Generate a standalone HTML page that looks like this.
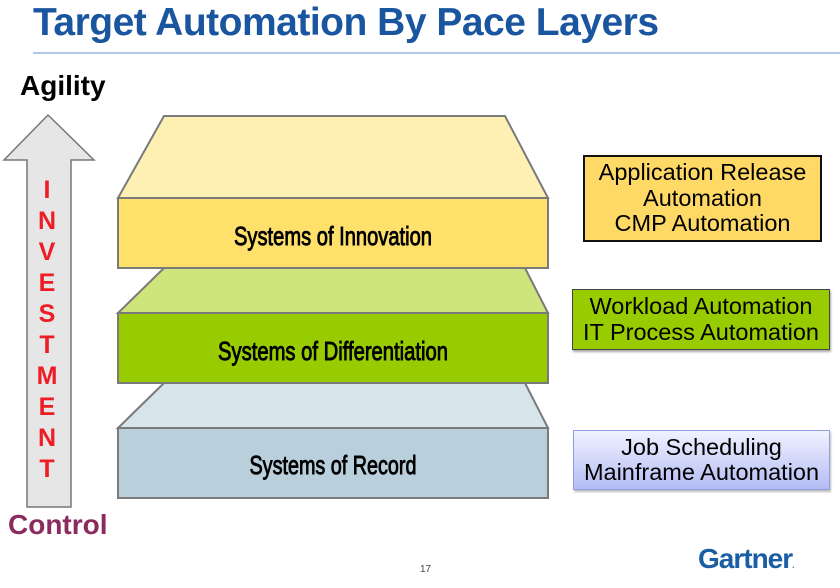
<!DOCTYPE html>
<html><head><meta charset="utf-8"><style>
body{margin:0;width:840px;height:588px;background:#fff;overflow:hidden;position:relative;font-family:"Liberation Sans",sans-serif}
.t{position:absolute;white-space:nowrap}
.box{position:absolute;display:flex;align-items:center;justify-content:center;text-align:center;font-size:23.5px;line-height:25.5px;color:#000;box-sizing:border-box}
</style></head><body>
<div class="t" style="left:33px;top:1px;font-size:39px;font-weight:bold;color:#1a56a0;letter-spacing:-0.5px">Target Automation By Pace Layers</div>
<div style="position:absolute;left:33px;top:52px;width:807px;height:2px;background:#b0c9ea"></div>
<div class="t" style="left:20px;top:70px;font-size:28px;font-weight:bold;color:#000">Agility</div>
<div class="t" style="left:8px;top:509px;font-size:28px;font-weight:bold;color:#8b2a5c">Control</div>
<svg width="840" height="588" style="position:absolute;left:0;top:0">
<polygon points="48,115 94,160 71,160 71,507 27,507 27,160 4,160" fill="#e6e6e6" stroke="#777" stroke-width="1.5"/>
<g font-family="Liberation Sans" font-weight="bold" font-size="25" fill="#ee1c24" text-anchor="middle">
<text x="47" y="198">I</text><text x="47" y="229">N</text><text x="47" y="260">V</text><text x="47" y="291">E</text><text x="47" y="322">S</text><text x="47" y="353">T</text><text x="47" y="384">M</text><text x="47" y="415">E</text><text x="47" y="446">N</text><text x="47" y="477">T</text>
</g>
<g stroke="#7a7a7a" stroke-width="2">
<polygon points="164,383 525,383 548,428 118,428" fill="#d7e4eb"/>
<rect x="118" y="428" width="430" height="70" fill="#bacfdc"/>
<polygon points="164,268 525,268 548,313 118,313" fill="#cde57a"/>
<rect x="118" y="313" width="430" height="70" fill="#99cc00"/>
<polygon points="164,116 505,116 548,198 118,198" fill="#fef0b3"/>
<rect x="118" y="198" width="430" height="70" fill="#ffe06b"/>
</g>
<g font-family="Liberation Sans Narrow, Liberation Sans" font-size="26" fill="#000" text-anchor="middle" stroke="#000" stroke-width="0.9">
<text x="333" y="245" textLength="198" lengthAdjust="spacingAndGlyphs">Systems of Innovation</text>
<text x="333" y="360" textLength="230" lengthAdjust="spacingAndGlyphs">Systems of Differentiation</text>
<text x="333" y="474" textLength="167" lengthAdjust="spacingAndGlyphs">Systems of Record</text>
</g>
</svg>
<div class="box" style="left:583px;top:155px;width:239px;height:87px;background:#ffd966;border:2px solid #111">Application Release<br>Automation<br>CMP Automation</div>
<div class="box" style="left:572px;top:289px;width:258px;height:61px;background:#99cc00;border:1px solid #444;box-shadow:1px 2px 2px #aaa">Workload Automation<br>IT Process Automation</div>
<div class="box" style="left:573px;top:430px;width:257px;height:60px;background:linear-gradient(#f0f2ff,#b4bcf4);border:1px solid #8fa0e0;box-shadow:1px 2px 2px #bbb">Job Scheduling<br>Mainframe Automation</div>
<div class="t" style="left:420px;top:564px;font-size:10px;color:#444">17</div>
<div class="t" style="left:698px;top:543px;font-size:28px;font-weight:bold;color:#1a5fa3;letter-spacing:-1px">Gartner<span style="font-size:8px">.</span></div>
</body></html>
